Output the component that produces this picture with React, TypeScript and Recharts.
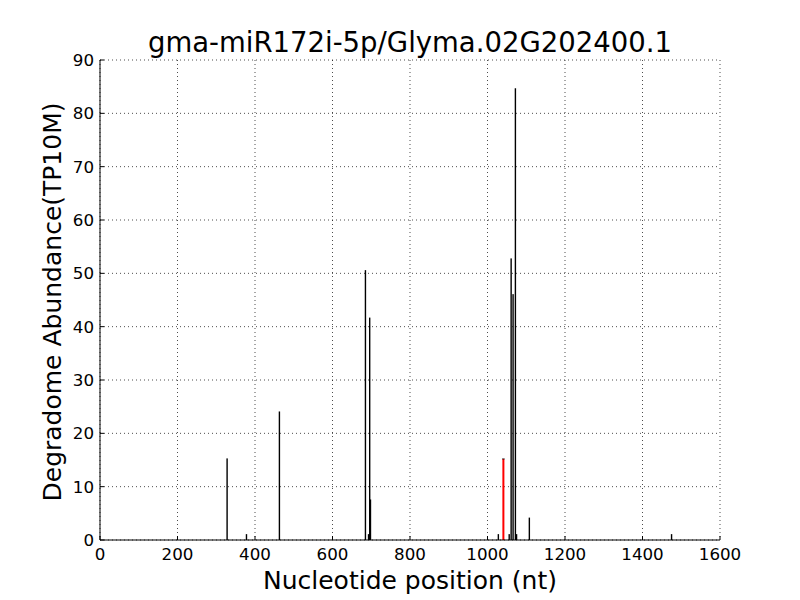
import React from "react";
import { Bar, CartesianGrid, Cell, ComposedChart, Label, XAxis, YAxis } from "recharts";

const positions = [328, 378, 463, 685, 693, 696, 698, 1028, 1041, 1056, 1061, 1066, 1072, 1075, 1108, 1475];
const abundance = [15.3, 1.1, 24.1, 50.6, 1.1, 41.7, 7.6, 1.1, 15.2, 1.1, 52.8, 46.1, 84.7, 1.1, 4.2, 1.1];
const targetPosition = 1041;

const xTicks = [0, 200, 400, 600, 800, 1000, 1200, 1400, 1600];
const yTicks = [0, 10, 20, 30, 40, 50, 60, 70, 80, 90];

const title = "gma-miR172i-5p/Glyma.02G202400.1";
const xLabel = "Nucleotide position (nt)";
const yLabel = "Degradome Abundance(TP10M)";

const data = positions.map((pos, i) => ({ pos, value: abundance[i] }));

const font = "'DejaVu Sans', sans-serif";
const tickStyle = { fontSize: 16.7, fill: "#000", fontFamily: font };
const noTick = () => <g />;

// thin stick drawn at the centre of the bar slot recharts computes
const Stick = (props: any) => {
  const { x, y, width, height, fill } = props;
  if (!height || height <= 0) return null;
  const red = fill === "#ff0000";
  const w = red ? 2 : 1.4;
  const cx = x + width / 2;
  return (
    <g>
      <rect x={cx - w / 2} y={y} width={w} height={height} fill={fill} />
      {red && <line x1={cx - w / 2 - 0.3} x2={cx + w / 2 + 0.3} y1={y} y2={y} stroke="#000" strokeWidth={0.8} />}
    </g>
  );
};

const App: React.FC = () => {
  return (
    <div style={{ position: "absolute", left: 0, top: 0, background: "#fff" }}>
      <ComposedChart
        width={800}
        height={600}
        data={data}
        margin={{ top: 60, right: 80, left: 0, bottom: 0 }}
      >
        <CartesianGrid stroke="#000" strokeWidth={0.7} strokeDasharray="1 3" xAxisId="bottom" yAxisId="left" />
        <XAxis
          xAxisId="bottom"
          dataKey="pos"
          type="number"
          domain={[0, 1600]}
          ticks={xTicks}
          interval={0}
          height={60}
          tickSize={-4}
          tickMargin={12}
          stroke="#000"
          tick={tickStyle}
        >
          <Label
            content={({ viewBox }: any) => (
              <g style={{ fontFamily: font, fill: "#000" }}>
                <text
                  x={viewBox.x + viewBox.width / 2}
                  y={viewBox.y + 49}
                  textAnchor="middle"
                  style={{ fontSize: 25 }}
                >
                  {xLabel}
                </text>
                <text x={viewBox.x + viewBox.width / 2} y={52} textAnchor="middle" style={{ fontSize: 27.5 }}>
                  {title}
                </text>
              </g>
            )}
          />
        </XAxis>
        <XAxis
          xAxisId="top"
          orientation="top"
          type="number"
          domain={[0, 1600]}
          ticks={xTicks}
          interval={0}
          height={0}
          tickSize={-4}
          stroke="#000"
          tick={noTick}
        />
        <YAxis
          yAxisId="left"
          type="number"
          domain={[0, 90]}
          ticks={yTicks}
          interval={0}
          width={100}
          tickSize={-4}
          tickMargin={10}
          stroke="#000"
          tick={tickStyle}
        >
          <Label
            content={({ viewBox }: any) => {
              const x = viewBox.x + 61;
              const y = viewBox.y + viewBox.height / 2 + 2;
              return (
                <text
                  x={x}
                  y={y}
                  transform={`rotate(-90, ${x}, ${y})`}
                  textAnchor="middle"
                  style={{ fontSize: 25, fontFamily: font, fill: "#000" }}
                >
                  {yLabel}
                </text>
              );
            }}
          />
        </YAxis>
        <YAxis
          yAxisId="right"
          orientation="right"
          type="number"
          domain={[0, 90]}
          ticks={yTicks}
          interval={0}
          width={0}
          tickSize={-4}
          stroke="#000"
          tick={noTick}
        />
        <Bar
          dataKey="value"
          xAxisId="bottom"
          yAxisId="left"
          shape={Stick}
          isAnimationActive={false}
        >
          {data.map((d) => (
            <Cell key={d.pos} fill={d.pos === targetPosition ? "#ff0000" : "#000"} />
          ))}
        </Bar>
      </ComposedChart>
    </div>
  );
};

export default App;
